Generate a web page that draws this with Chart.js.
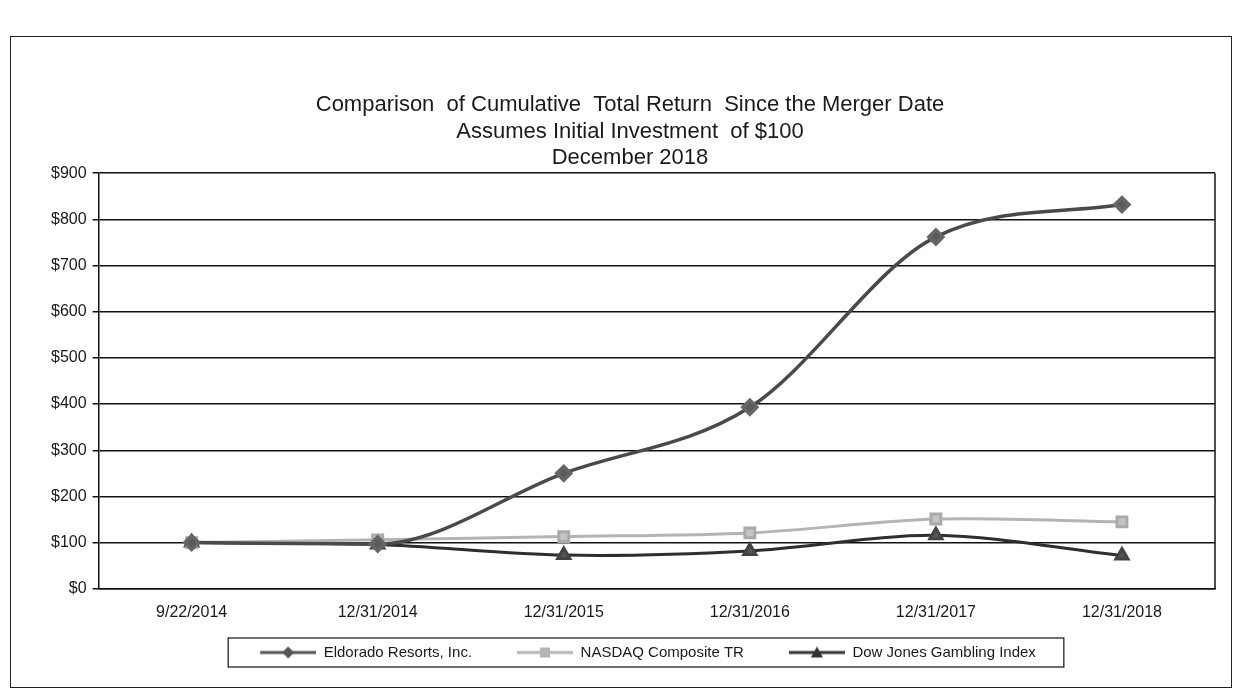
<!DOCTYPE html>
<html>
<head>
    <script src="https://cdn.jsdelivr.net/npm/chart.js"></script>
    <style>
        body {
            margin: 0;
            background-color: white;
            font-family: "Liberation Sans", Arial, sans-serif;
        }

        .frame {
            position: absolute;
            left: 10px;
            top: 36px;
            width: 1222px;
            height: 652px;
            border: 1px solid #222;
            box-sizing: border-box;
        }
    </style>
</head>
<body>

    <div class="frame">
        <canvas id="returnChart" width="1220" height="650"></canvas>
    </div>

    <script>
        // Dates and index values
        const dates = ["9/22/2014", "12/31/2014", "12/31/2015", "12/31/2016", "12/31/2017", "12/31/2018"];
        const eldorado = [100, 97, 250, 393, 762, 832];
        const nasdaq = [100, 106, 113, 121, 151, 145];
        const dowJones = [100, 96, 73, 82, 116, 72];
        const seriesNames = ["Eldorado Resorts, Inc.", "NASDAQ Composite TR", "Dow Jones Gambling Index"];
        const titleLines = [
            "Comparison  of Cumulative  Total Return  Since the Merger Date",
            "Assumes Initial Investment  of $100",
            "December 2018"
        ];

        const fontName = "'Liberation Sans', Arial, sans-serif";
        const iconWidth = 92;

        // legend icon: short line with the marker in the middle, blank space on the left
        function legendIcon(color, style) {
            let c = document.createElement("canvas");
            c.width = iconWidth;
            c.height = 14;
            let g = c.getContext("2d");
            let x0 = 36, mid = (x0 + iconWidth) / 2;
            g.strokeStyle = color;
            g.lineWidth = 3;
            g.beginPath();
            g.moveTo(x0, 7);
            g.lineTo(iconWidth, 7);
            g.stroke();
            g.fillStyle = color;
            g.beginPath();
            if (style === "rectRot") {
                g.moveTo(mid, 1); g.lineTo(mid + 6, 7); g.lineTo(mid, 13); g.lineTo(mid - 6, 7);
            } else if (style === "rect") {
                g.rect(mid - 5, 2, 10, 10);
            } else {
                g.moveTo(mid, 1); g.lineTo(mid + 6, 12); g.lineTo(mid - 6, 12);
            }
            g.closePath();
            g.fill();
            return c;
        }

        // right edge of the plot box, and a box round the legend
        const framePlugin = {
            id: "framePlugin",
            afterDraw(chart) {
                let ctx = chart.ctx;
                let a = chart.chartArea;
                ctx.save();
                ctx.strokeStyle = "#111";
                ctx.lineWidth = 1.5;
                ctx.beginPath();
                ctx.moveTo(a.right, a.top);
                ctx.lineTo(a.right, a.bottom);
                ctx.stroke();
                let boxes = chart.legend.legendHitBoxes;
                if (boxes && boxes.length) {
                    let first = boxes[0], last = boxes[boxes.length - 1];
                    let left = first.left + 4;
                    let right = last.left + last.width + 28;
                    let top = first.top - 7;
                    let h = first.height + 14;
                    ctx.lineWidth = 1.2;
                    ctx.strokeRect(left, top, right - left, h);
                }
                ctx.restore();
            }
        };

        let ctx = document.getElementById("returnChart").getContext("2d");
        new Chart(ctx, {
            type: "line",
            data: {
                labels: dates,
                datasets: [
                    {
                        label: seriesNames[0],
                        data: eldorado,
                        borderColor: "#4a4a4a",
                        backgroundColor: "#5a5a5a",
                        borderWidth: 3.5,
                        pointStyle: "rectRot",
                        pointRadius: 7,
                        pointBorderColor: "#666",
                        cubicInterpolationMode: "monotone"
                    },
                    {
                        label: seriesNames[1],
                        data: nasdaq,
                        borderColor: "#b4b4b4",
                        backgroundColor: "#c4c4c4",
                        borderWidth: 3,
                        pointStyle: "rect",
                        pointRadius: 7,
                        pointBorderColor: "#aaa",
                        tension: 0.3
                    },
                    {
                        label: seriesNames[2],
                        data: dowJones,
                        borderColor: "#2e2e2e",
                        backgroundColor: "#555",
                        borderWidth: 3,
                        pointStyle: "triangle",
                        pointRadius: 7,
                        pointBorderColor: "#444",
                        tension: 0.3
                    }
                ]
            },
            options: {
                responsive: false,
                animation: false,
                layout: {
                    padding: { top: 55, left: 34, right: 16, bottom: 17 }
                },
                plugins: {
                    title: {
                        display: true,
                        text: titleLines,
                        color: "#1a1a1a",
                        font: { family: fontName, size: 22, weight: "normal", lineHeight: 1.2 },
                        padding: { top: 0, bottom: 2 }
                    },
                    legend: {
                        position: "bottom",
                        labels: {
                            usePointStyle: true,
                            pointStyleWidth: iconWidth,
                            color: "#1a1a1a",
                            font: { family: fontName, size: 15 },
                            padding: 9,
                            generateLabels(chart) {
                                let styles = ["rectRot", "rect", "triangle"];
                                let colors = ["#555", "#b4b4b4", "#333"];
                                return chart.data.datasets.map((ds, i) => ({
                                    text: ds.label,
                                    pointStyle: legendIcon(colors[i], styles[i]),
                                    fontColor: "#1a1a1a",
                                    lineWidth: 0,
                                    datasetIndex: i
                                }));
                            }
                        }
                    },
                    tooltip: { enabled: false }
                },
                scales: {
                    x: {
                        offset: true,
                        grid: { display: false, drawTicks: false },
                        border: { color: "#111", width: 1.5 },
                        ticks: {
                            color: "#1a1a1a",
                            font: { family: fontName, size: 16 },
                            padding: 14,
                            maxRotation: 0
                        }
                    },
                    y: {
                        min: 0,
                        max: 900,
                        grid: { color: "#111", lineWidth: 1.5, tickLength: 6 },
                        border: { color: "#111", width: 1.5 },
                        ticks: {
                            stepSize: 100,
                            color: "#1a1a1a",
                            font: { family: fontName, size: 16 },
                            padding: 6,
                            callback: v => "$" + v
                        }
                    }
                }
            },
            plugins: [framePlugin]
        });
    </script>

</body>
</html>
